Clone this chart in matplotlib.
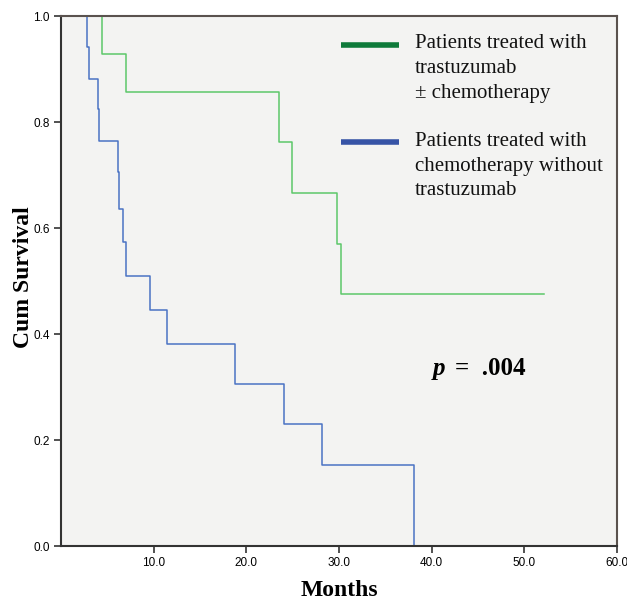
import numpy as np
import matplotlib.pyplot as plt

# step curves (months, cumulative survival)
green_t = [0, 4.4, 7.0, 23.5, 24.9, 29.8, 30.2, 52.1]
green_s = [1.0, 0.929, 0.857, 0.762, 0.667, 0.571, 0.476, 0.476]

blue_t = [0, 2.8, 3.0, 3.95, 4.05, 6.2, 6.3, 6.7, 7.0, 9.65, 11.4, 18.75, 24.1, 28.2, 38.1]
blue_s = [1.0, 0.941, 0.882, 0.824, 0.765, 0.706, 0.637, 0.574, 0.509, 0.445, 0.382,
          0.306, 0.230, 0.153, 0.0]

legend_labels = ["Patients treated with\ntrastuzumab\n\u00b1 chemotherapy",
                 "Patients treated with\nchemotherapy without\ntrastuzumab"]
x_ticks = [10, 20, 30, 40, 50, 60]
y_ticks = [0.0, 0.2, 0.4, 0.6, 0.8, 1.0]

serif = "Liberation Serif"
sans = "Liberation Sans"

fig = plt.figure(figsize=(6.27, 6.01), dpi=100)
ax = fig.add_axes([0.0973, 0.0915, 0.8867, 0.8815])
ax.set_facecolor("#f3f3f2")

ax.step(green_t, green_s, where="post", color="#5cc76a", lw=1.1)
ax.step(blue_t, blue_s, where="post", color="#4a72c4", lw=1.1)

ax.set_xlim(0, 60)
ax.set_ylim(0, 1.0)
ax.set_xticks(x_ticks)
ax.set_xticklabels([f"{v:.1f}" for v in x_ticks], fontfamily=sans, fontsize=8.5)
ax.set_yticks(y_ticks)
ax.set_yticklabels([f"{v:.1f}" for v in y_ticks], fontfamily=sans, fontsize=8.5)
ax.tick_params(direction="out", length=5, width=1.2, color="#333333", pad=3)

for side in ["left", "bottom"]:
    ax.spines[side].set_linewidth(1.5)
    ax.spines[side].set_color("#333333")
for side in ["top", "right"]:
    ax.spines[side].set_linewidth(1.5)
    ax.spines[side].set_color("#5a524e")

ax.set_xlabel("Months", fontfamily=serif, fontweight="bold", fontsize=17, labelpad=8)
ax.set_ylabel("Cum Survival", fontfamily=serif, fontweight="bold", fontsize=17)
ax.yaxis.set_label_coords(-0.048, 0.507)

# legend drawn by hand in axes coordinates
ax.plot([0.504, 0.608], [0.946, 0.946], transform=ax.transAxes, color="#0e7a3a", lw=4,
        solid_capstyle="butt")
ax.plot([0.504, 0.608], [0.763, 0.763], transform=ax.transAxes, color="#3653a6", lw=4,
        solid_capstyle="butt")
ax.text(0.637, 0.966, legend_labels[0], transform=ax.transAxes, va="top", ha="left",
        fontfamily=serif, fontsize=15, linespacing=1.42, color="#111111")
ax.text(0.637, 0.782, legend_labels[1], transform=ax.transAxes, va="top", ha="left",
        fontfamily=serif, fontsize=15, linespacing=1.42, color="#111111")

ax.text(0.669, 0.336, "p", transform=ax.transAxes, ha="left", va="center",
        fontfamily=serif, fontweight="bold", fontstyle="italic", fontsize=18)
ax.text(0.709, 0.336, "=  .004", transform=ax.transAxes, ha="left", va="center",
        fontfamily=serif, fontweight="bold", fontsize=18)

fig.savefig("out.png", dpi=100, facecolor="white")
